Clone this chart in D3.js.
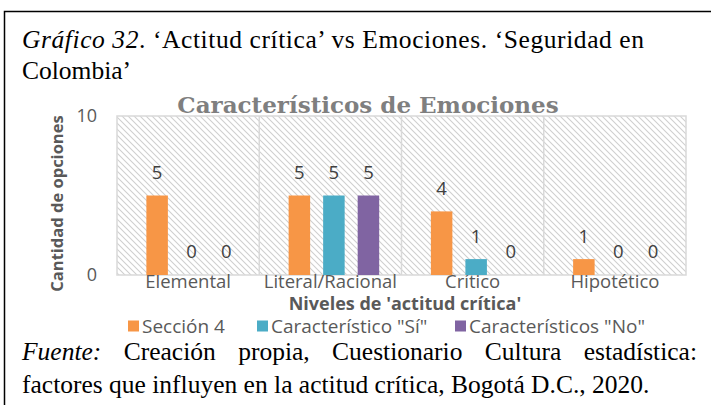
<!DOCTYPE html>
<html>
<head>
<meta charset="utf-8">
<script src="https://cdn.jsdelivr.net/npm/d3@7"></script>
<style>
  html, body { margin: 0; padding: 0; background: #fff; }
  svg { display: block; }
</style>
</head>
<body>
<svg id="chart" width="711" height="405"></svg>
<script>
// Categories, series and ticks
const categories = ["Elemental", "Literal/Racional", "Crítico", "Hipotético"];
const seriesNames = ["Sección 4", "Característico \"Sí\"", "Característicos \"No\""];
const seccion4 = [5, 5, 4, 1];
const caracteristicoSi = [0, 5, 1, 0];
const caracteristicosNo = [0, 5, 0, 0];
const yTicks = [0, 10];
const colors = ["#F79646", "#4BACC6", "#8064A2"];

const seriesValues = [seccion4, caracteristicoSi, caracteristicosNo];

const svg = d3.select("#chart");
const sans = "'Open Sans', Calibri, sans-serif";
const serif = "'Liberation Serif', 'Times New Roman', serif";
const capSize = 25.5;

// Outer frame of the figure (open at the right and bottom edges)
svg.append("path")
  .attr("d", "M4.5,405 V11.5 H711")
  .attr("fill", "none").attr("stroke", "#000").attr("stroke-width", 1.5);

// Figure caption
const cap1 = svg.append("text").attr("x", 22).attr("y", 48)
  .attr("font-family", serif).attr("font-size", capSize).attr("fill", "#000")
  .attr("textLength", 622).attr("lengthAdjust", "spacing");
cap1.append("tspan").attr("font-style", "italic").text("Gráfico 32");
cap1.append("tspan").text(". ‘Actitud crítica’ vs Emociones. ‘Seguridad en");
svg.append("text").attr("x", 22).attr("y", 79)
  .attr("font-family", serif).attr("font-size", capSize).attr("fill", "#000")
  .text("Colombia’");

// Source note: first line justified between the margins
const srcWords = [
  { t: "Fuente:", italic: true }, { t: "Creación" }, { t: "propia," },
  { t: "Cuestionario" }, { t: "Cultura" }, { t: "estadística:" }
];
const srcLeft = 22, srcRight = 697;
const src1 = svg.append("g");
const wNodes = srcWords.map(w => src1.append("text").attr("y", 360)
  .attr("font-family", serif).attr("font-size", capSize).attr("fill", "#000")
  .attr("font-style", w.italic ? "italic" : "normal").text(w.t));
const widths = wNodes.map(n => n.node().getComputedTextLength());
const gap = (srcRight - srcLeft - d3.sum(widths)) / (srcWords.length - 1);
let cx = srcLeft;
wNodes.forEach((n, i) => { n.attr("x", cx); cx += widths[i] + gap; });
svg.append("text").attr("x", 22).attr("y", 393)
  .attr("font-family", serif).attr("font-size", capSize).attr("fill", "#000")
  .text("factores que influyen en la actitud crítica, Bogotá D.C., 2020.");

const plot = { left: 117, right: 686, top: 116, bottom: 275 };

const x = d3.scaleBand().domain(categories).range([plot.left, plot.right]).padding(0);
const y = d3.scaleLinear().domain([0, 10]).range([plot.bottom, plot.top]);
const barW = 21.5, barStep = 31;
const xs = d3.scaleBand().domain(d3.range(seriesNames.length))
  .range([0, barStep * seriesNames.length]).paddingInner((barStep - barW) / barStep).paddingOuter(0);

// Diagonal hatch background
const defs = svg.append("defs");
const pat = defs.append("pattern").attr("id", "hatch")
  .attr("patternUnits", "userSpaceOnUse").attr("width", 6).attr("height", 6);
pat.append("path").attr("d", "M-1,-1 L7,7 M-1,5 L1,7 M5,-1 L7,1")
  .attr("stroke", "#cfcfcf").attr("stroke-width", 1.1);

svg.append("rect")
  .attr("x", plot.left).attr("y", plot.top)
  .attr("width", plot.right - plot.left).attr("height", plot.bottom - plot.top)
  .attr("fill", "url(#hatch)").attr("stroke", "#d9d9d9").attr("stroke-width", 1.5);

// Category separators
svg.append("g").selectAll("line").data(categories.slice(1)).join("line")
  .attr("x1", d => x(d)).attr("x2", d => x(d))
  .attr("y1", plot.top).attr("y2", plot.bottom)
  .attr("stroke", "#d9d9d9").attr("stroke-width", 1.5);

// Chart title
svg.append("text")
  .attr("x", 368).attr("y", 113)
  .attr("text-anchor", "middle")
  .attr("font-family", "'DejaVu Serif', Cambria, serif").attr("font-weight", "bold")
  .attr("font-size", 23).attr("fill", "#7f7f7f")
  .text("Característicos de Emociones");

// Y axis tick labels
const yAxis = d3.axisLeft(y).tickValues(yTicks).tickSize(0).tickPadding(20);
const gy = svg.append("g").attr("transform", `translate(${plot.left},0)`).call(yAxis);
gy.select(".domain").remove();
gy.selectAll("text").attr("font-family", sans).attr("font-size", 18).attr("fill", "#595959");

// X axis category labels
const xAxis = d3.axisBottom(x).tickSize(0).tickPadding(0);
const gx = svg.append("g").attr("transform", `translate(0,${plot.bottom})`).call(xAxis);
gx.select(".domain").remove();
gx.selectAll("text").attr("font-family", sans).attr("font-size", 18.5).attr("fill", "#595959");

// Bars and value labels
const groupW = barStep * (seriesNames.length - 1) + barW;
const groups = svg.append("g").selectAll("g").data(categories).join("g")
  .attr("transform", d => `translate(${x(d) + (x.bandwidth() - groupW) / 2},0)`);

groups.each(function(cat, ci) {
  const g = d3.select(this);
  const vals = seriesValues.map((s, si) => ({ si, v: s[ci] }));
  g.selectAll("rect").data(vals).join("rect")
    .attr("x", d => xs(d.si)).attr("width", barW)
    .attr("y", d => y(d.v)).attr("height", d => y(0) - y(d.v))
    .attr("fill", d => colors[d.si]);
  g.selectAll("text").data(vals).join("text")
    .attr("x", d => xs(d.si) + barW / 2).attr("y", d => y(d.v) - 23)
    .attr("dy", "0.35em").attr("text-anchor", "middle")
    .attr("font-family", sans).attr("font-size", 18.5).attr("fill", "#404040")
    .text(d => d.v);
});

// Axis titles
svg.append("text")
  .attr("transform", `translate(57,${(plot.top + plot.bottom) / 2 + 8}) rotate(-90)`)
  .attr("text-anchor", "middle").attr("dy", "0.35em")
  .attr("font-family", sans).attr("font-weight", "bold").attr("font-size", 16.5).attr("fill", "#595959")
  .text("Cantidad de opciones");

svg.append("text")
  .attr("x", 405).attr("y", 304).attr("dy", "0.35em").attr("text-anchor", "middle")
  .attr("font-family", sans).attr("font-weight", "bold").attr("font-size", 18).attr("fill", "#595959")
  .text("Niveles de 'actitud crítica'");

// Legend
const legendX = [128, 257, 455];
const lg = svg.append("g").selectAll("g").data(seriesNames).join("g")
  .attr("transform", (d, i) => `translate(${legendX[i]},326)`);
lg.append("rect").attr("x", 0).attr("y", -5.5).attr("width", 11).attr("height", 11)
  .attr("fill", (d, i) => colors[i]);
lg.append("text").attr("x", 14).attr("dy", "0.35em")
  .attr("font-family", sans).attr("font-size", 19).attr("fill", "#595959")
  .text(d => d);
</script>
</body>
</html>
